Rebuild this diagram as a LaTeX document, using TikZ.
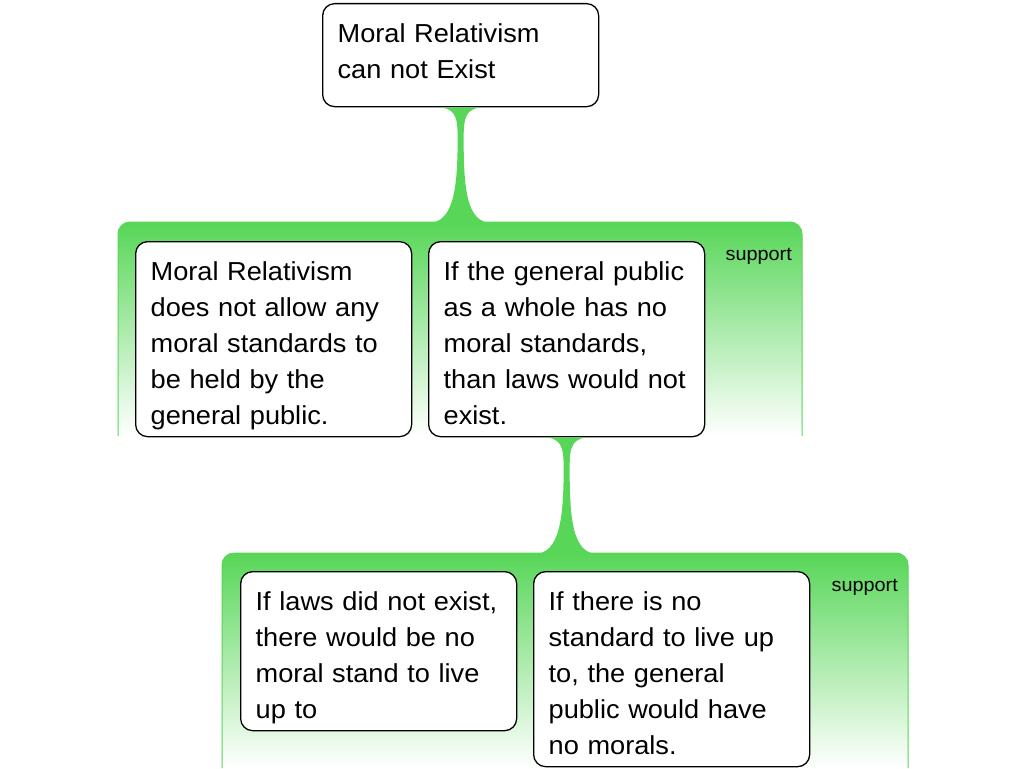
\documentclass[tikz,border=0pt]{standalone}
\usepackage{fontspec}
\setmainfont{Liberation Sans}[FakeStretch=1.045]
\definecolor{linkgreen}{RGB}{87,214,87}
\hyphenpenalty=10000

\begin{document}
\begin{tikzpicture}[x=1pt, y=-1pt,
    box/.style={draw, line width=1.3pt, rounded corners=12pt, fill=white, anchor=north west,
      text width=246pt, inner xsep=15pt, inner ysep=0pt, align=left,
      font=\fontsize{26}{36}\selectfont,
      minimum height=#1, text height=0pt, text depth=#1-78},
    band/.style={rounded corners=12pt, top color=linkgreen, bottom color=white},
    rim/.style={draw=linkgreen, line width=1pt, rounded corners=12pt},
    tag/.style={anchor=base east, inner sep=0pt, font=\fontsize{19}{22}\selectfont},
    stem/.style={fill=linkgreen}]
    \useasboundingbox (0,0) rectangle (1024,768);

    % Top claim
    \node[box=103] (claim) at (322,3) {Moral Relativism\\can not Exist};

    % Support band for the claim
    \shade[band] (118,436) -- (118,222) -- (802,222) -- (802,436) -- cycle;
    \draw[rim] (118,436) -- (118,222) -- (802,222) -- (802,436);
    \node[tag] (support1) at (792,260) {support};
    \coordinate (top1) at (460,222);

    % Reasons
    \node[box=195] (reasonA) at (135,241) {Moral Relativism\\does not allow any\\moral standards to\\be held by the\\general public.};
    \node[box=195] (reasonB) at (428,241) {If the general public\\as a whole has no\\moral standards,\\than laws would not\\exist.};

    % Support band for reason B
    \shade[band] (222,768) -- (222,553) -- (908,553) -- (908,768) -- cycle;
    \draw[rim] (222,768) -- (222,553) -- (908,553) -- (908,768);
    \node[tag] (support2) at (898,591) {support};
    \coordinate (top2) at (566,553);

    % Sub reasons
    \node[box=159] (reasonC) at (240,571) {If laws did not exist,\\there would be no\\moral stand to live\\up to};
    \node[box=195] (reasonD) at (533,571) {If there is no\\standard to live up\\to, the general\\public would have\\no morals.};

    % Stem from claim to band
    \fill[stem] ([shift={(-25,0)}]claim.south)
        .. controls +(19,0) and +(0,-22) .. ([shift={(-3,30)}]claim.south)
        .. controls +(0,50) and +(26,0) .. ([shift={(-32,1)}]top1)
        -- ([shift={(32,1)}]top1)
        .. controls +(-26,0) and +(0,50) .. ([shift={(3,30)}]claim.south)
        .. controls +(0,-22) and +(-19,0) .. ([shift={(25,0)}]claim.south)
        -- cycle;

    % Stem from reason B to band
    \fill[stem] ([shift={(-25,0)}]reasonB.south)
        .. controls +(19,0) and +(0,-22) .. ([shift={(-3,30)}]reasonB.south)
        .. controls +(0,50) and +(26,0) .. ([shift={(-32,1)}]top2)
        -- ([shift={(32,1)}]top2)
        .. controls +(-26,0) and +(0,50) .. ([shift={(3,30)}]reasonB.south)
        .. controls +(0,-22) and +(-19,0) .. ([shift={(25,0)}]reasonB.south)
        -- cycle;
\end{tikzpicture}
\end{document}
